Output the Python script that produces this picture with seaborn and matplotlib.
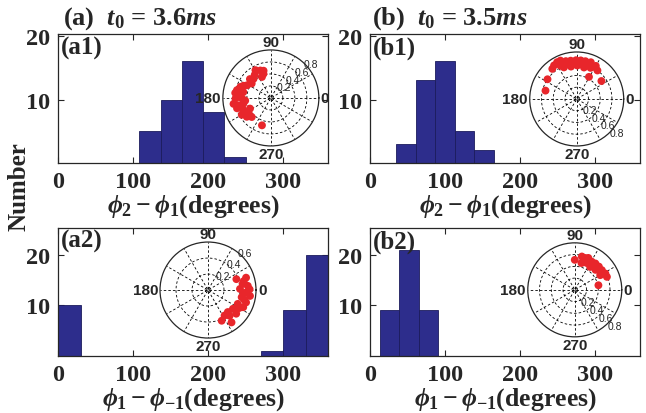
import numpy as np
import pandas as pd
import matplotlib
matplotlib.use("Agg")
import matplotlib.pyplot as plt
import seaborn as sns

# =============================
#  Données des histogrammes (bords des classes en degrés, effectifs)
# =============================
a1_edges = [108, 137, 165, 193, 221, 250]
a1_counts = [5, 10, 16, 8, 1]

b1_edges = [35, 61, 87, 113, 139, 165]
b1_counts = [3, 13, 16, 5, 2]

a2_edges = [0, 30, 60, 90, 120, 150, 180, 210, 240, 270, 300, 330, 360]
a2_counts = [10, 0, 0, 0, 0, 0, 0, 0, 0, 1, 9, 20]

b2_edges = [13, 39, 65, 91]
b2_counts = [9, 21, 9]

# =============================
#  Données des encarts polaires (angle en degrés, rayon)
# =============================
a1_theta = [119, 111, 107, 113, 105, 132, 143, 152, 160, 167, 168, 175, 181, 181, 189, 193,
            192, 197, 204, 215, 225, 218, 207, 186, 125, 138, 156, 172, 178, 199, 210, 252]
a1_r = [0.53, 0.49, 0.42, 0.38, 0.47, 0.43, 0.40, 0.45, 0.54, 0.58, 0.47, 0.54, 0.59, 0.48, 0.63, 0.55,
        0.47, 0.59, 0.50, 0.45, 0.45, 0.51, 0.39, 0.43, 0.47, 0.47, 0.50, 0.60, 0.52, 0.52, 0.56, 0.48]

b1_theta = [124, 118, 113, 106, 99, 91, 84, 77, 69, 60, 54, 112, 100, 89, 77, 66,
            105, 94, 83, 73, 116, 129, 146, 165, 61, 36]
b1_r = [0.69, 0.71, 0.71, 0.67, 0.66, 0.66, 0.66, 0.66, 0.67, 0.65, 0.60, 0.58, 0.56, 0.57, 0.55, 0.58,
        0.62, 0.61, 0.60, 0.61, 0.63, 0.66, 0.60, 0.55, 0.43, 0.52]

a2_theta = [21, 18, 10, 6, 2, -3.5, -8, -12, -18, -25, -26, -37, -48, -57, -66, -54,
            -50, -40, 1, 14, -30, -15, -5]
a2_r = [0.38, 0.50, 0.44, 0.50, 0.40, 0.48, 0.53, 0.43, 0.50, 0.41, 0.49, 0.39, 0.37, 0.38, 0.42, 0.50,
        0.42, 0.46, 0.52, 0.46, 0.45, 0.47, 0.45]

b2_theta = [90, 78, 72, 67, 76, 66, 59, 52, 44, 36, 28, 22, 30, 44, 56, 11, 70, 62, 48, 40]
b2_r = [0.51, 0.58, 0.57, 0.59, 0.47, 0.50, 0.56, 0.57, 0.57, 0.57, 0.59, 0.59, 0.50, 0.49, 0.47, 0.41,
        0.53, 0.53, 0.52, 0.53]

# =============================
#  Style
# =============================
sns.set_style("ticks")
plt.rcParams["font.family"] = ["Liberation Serif", "DejaVu Serif"]
plt.rcParams["font.weight"] = "bold"
plt.rcParams["axes.labelweight"] = "bold"
plt.rcParams["mathtext.fontset"] = "custom"
plt.rcParams["mathtext.rm"] = "Liberation Serif:bold"
plt.rcParams["mathtext.bf"] = "Liberation Serif:bold"
plt.rcParams["mathtext.it"] = "Liberation Serif:italic:bold"
plt.rcParams["axes.linewidth"] = 0.9

bar_color = "#2d2d8c"
edge_color = "#1c1c5c"
dot_color = "#e8262b"

fig = plt.figure(figsize=(6.46, 4.14), dpi=100)


def hist_panel(rect, edges, counts, ymax, tag, xlabel):
    ax = fig.add_axes(rect)
    mids = [(lo + hi) / 2 for lo, hi in zip(edges[:-1], edges[1:])]
    df = pd.DataFrame({"angle": mids, "n": counts})
    sns.histplot(data=df, x="angle", weights="n", bins=list(edges), ax=ax,
                 color=bar_color, edgecolor=edge_color, linewidth=0.6, alpha=1)
    ax.set_xlim(0, 360)
    ax.set_ylim(0, ymax)
    ax.set_xticks([0, 100, 200, 300])
    ax.set_yticks([10, 20])
    ax.tick_params(direction="in", top=True, right=True, length=4, width=0.8,
                   labelsize=17.5, pad=6)
    ax.set_xlabel(xlabel, fontsize=18.5, fontweight="bold", labelpad=0)
    ax.set_ylabel("")
    ax.text(0.01, 0.99, tag, transform=ax.transAxes, ha="left", va="top",
            fontsize=18, fontweight="bold")
    return ax


def polar_inset(rect, theta, r, rmax, rings, lab_ang, lab_off):
    pax = fig.add_axes(rect, projection="polar")
    pax.set_ylim(0, rmax)
    pax.grid(False)
    pax.set_xticks([])
    pax.set_yticks([])
    pax.spines["polar"].set_linewidth(0.9)
    t = np.linspace(0, 2 * np.pi, 300)
    for ring in rings[:-1]:
        pax.plot(t, np.full_like(t, ring), ls=(0, (3, 2.5)), color="k", lw=0.6)
    # petit cercle central (artefact du tracé polaire)
    pax.plot(t, np.full_like(t, rmax * 0.06), ls=(0, (1, 1)), color="k", lw=0.6)
    for a in range(0, 360, 30):
        pax.plot([np.deg2rad(a)] * 2, [rmax * 0.02, rmax], ls=(0, (3, 2.5)),
                 color="k", lw=0.6)
    sns.scatterplot(x=np.deg2rad(theta), y=r, ax=pax, color=dot_color, s=32,
                    edgecolor="none", linewidth=0, zorder=5)
    pax.set_xlabel("")
    pax.set_ylabel("")
    pax.set_ylim(0, rmax)
    fs = dict(family=["Liberation Sans", "DejaVu Sans"], fontweight="bold", fontsize=11)
    pax.text(0, rmax * 1.04, "0", ha="left", va="center", **fs)
    pax.text(np.pi / 2, rmax * 1.02, "90", ha="center", va="bottom", **fs)
    pax.text(np.pi, rmax * 1.04, "180", ha="right", va="center", **fs)
    pax.text(3 * np.pi / 2, rmax * 1.02, "270", ha="center", va="top", **fs)
    for ring in rings:
        pax.text(np.deg2rad(lab_ang), ring + lab_off, f"{ring:.1f}", ha="center",
                 va="center", family=["Liberation Sans", "DejaVu Sans"],
                 fontweight="normal", fontsize=7.5)
    return pax


xl1 = r"$\phi_2 - \phi_1$(degrees)"
xl2 = r"$\phi_1 - \phi_{-1}$(degrees)"

hist_panel([0.0898, 0.604, 0.418, 0.311], a1_edges, a1_counts, 20.3, "(a1)", xl1)
hist_panel([0.573, 0.604, 0.418, 0.311], b1_edges, b1_counts, 20.3, "(b1)", xl1)
hist_panel([0.0898, 0.138, 0.418, 0.309], a2_edges, a2_counts, 25.3, "(a2)", xl2)
hist_panel([0.573, 0.138, 0.418, 0.309], b2_edges, b2_counts, 25.3, "(b2)", xl2)

polar_inset([0.345, 0.645, 0.1486, 0.232], a1_theta, a1_r, 0.8, [0.2, 0.4, 0.6, 0.8], 40, 0.075)
polar_inset([0.820, 0.645, 0.1455, 0.227], b1_theta, b1_r, 0.8, [0.2, 0.4, 0.6, 0.8], -40, 0.1)
polar_inset([0.2477, 0.181, 0.1486, 0.232], a2_theta, a2_r, 0.6, [0.2, 0.4, 0.6], 45, 0.055)
polar_inset([0.817, 0.184, 0.1455, 0.227], b2_theta, b2_r, 0.8, [0.2, 0.4, 0.6, 0.8], -42, 0.11)

fig.text(63 / 646, 1 - 19 / 414, r"(a)  $t_0$ = 3.6$ms$", ha="left", va="center",
         fontsize=19, fontweight="bold")
fig.text(372 / 646, 1 - 19 / 414, r"(b)  $t_0$ = 3.5$ms$", ha="left", va="center",
         fontsize=19, fontweight="bold")
fig.text(19 / 646, 1 - 187 / 414, "Number", rotation=90, ha="center", va="center",
         fontsize=18, fontweight="bold")

plt.savefig("out.png", dpi=100)
plt.close()
